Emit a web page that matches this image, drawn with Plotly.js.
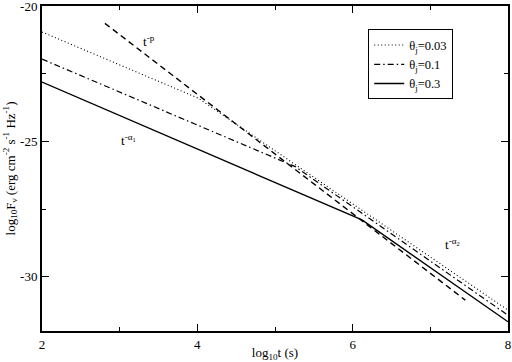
<!DOCTYPE html>
<html>
<head>
<meta charset="utf-8">
<script src="https://cdn.plot.ly/plotly-3.0.1.min.js"></script>
<style>
  html, body { margin: 0; padding: 0; background: #fff; }
  #chart { width: 512px; height: 362px; }
</style>
</head>
<body>
<div id="chart"></div>
<script>
// light curves, log10 t vs log10 F_nu
const logT_003 = [2, 4.01, 8];
const logF_003 = [-20.96, -23.40, -31.23];

const logT_01 = [2, 5.26, 8];
const logF_01 = [-21.96, -25.93, -31.42];

const logT_03 = [2, 6.12, 8];
const logF_03 = [-22.81, -27.90, -31.66];

// the t^-p reference line
const logT_p = [2.81, 7.45];
const logF_p = [-20.64, -30.86];

const xTicks = [2, 4, 6, 8];
const yTicks = [-20, -25, -30];
const yTickText = ["-20", "-25", "-30"];

const FONT = "Liberation Serif, Times New Roman, serif";

const traces = [
  {x: logT_003, y: logF_003, mode: "lines", name: "θ<sub>j</sub>=0.03",
   line: {color: "black", width: 1.1, dash: "1px,2.5px"}},
  {x: logT_01, y: logF_01, mode: "lines", name: "θ<sub>j</sub>=0.1",
   line: {color: "black", width: 1.2, dash: "6px,3px,1.5px,3px"}},
  {x: logT_03, y: logF_03, mode: "lines", name: "θ<sub>j</sub>=0.3",
   line: {color: "black", width: 1.4}},
  {x: logT_p, y: logF_p, mode: "lines", showlegend: false,
   line: {color: "black", width: 1.4, dash: "6px,4px"}}
];

const axisCommon = {
  showgrid: false, zeroline: false,
  showline: true, linecolor: "black", linewidth: 2, mirror: "ticks",
  ticks: "inside", ticklen: 7, tickwidth: 1, tickcolor: "black",
  ticklabeloverflow: "allow",
  tickfont: {family: FONT, size: 13, color: "black"}
};

const layout = {
  width: 512, height: 362,
  margin: {l: 42, r: 4, t: 6, b: 31},
  paper_bgcolor: "white", plot_bgcolor: "white",
  font: {family: FONT, color: "black"},
  showlegend: true,
  legend: {
    x: 0.70, y: 0.928, xanchor: "left", yanchor: "top",
    bgcolor: "white", bordercolor: "black", borderwidth: 1,
    font: {family: FONT, size: 12.5, color: "black"},
    itemwidth: 30, tracegroupgap: 0
  },
  xaxis: Object.assign({}, axisCommon, {
    range: [2, 8], tickmode: "array", tickvals: xTicks,
    minor: {dtick: 1, ticks: "inside", ticklen: 4, tickcolor: "black"},
    title: {text: "log<sub>10</sub>t (s)", font: {family: FONT, size: 13}, standoff: 0}
  }),
  yaxis: Object.assign({}, axisCommon, {
    range: [-32, -20], tickmode: "array", tickvals: yTicks, ticktext: yTickText,
    minor: {tickvals: [-22.5, -27.5], ticks: "inside", ticklen: 4, tickcolor: "black"},
    title: {text: "log<sub>10</sub>F<sub>ν</sub> (erg cm<sup>-2</sup> s<sup>-1</sup> Hz<sup>-1</sup>)",
            font: {family: FONT, size: 13}, standoff: 2}
  }),
  annotations: [
    {x: 3.38, y: -21.3, text: "t<sup>-p</sup>", showarrow: false,
     font: {family: FONT, size: 13}},
    {x: 3.12, y: -24.95, text: "t<sup>-α<sub>1</sub></sup>", showarrow: false,
     font: {family: FONT, size: 13}},
    {x: 7.28, y: -28.8, text: "t<sup>-α<sub>2</sub></sup>", showarrow: false,
     font: {family: FONT, size: 13}}
  ]
};

Plotly.newPlot("chart", traces, layout, {staticPlot: true, displayModeBar: false});
</script>
</body>
</html>
